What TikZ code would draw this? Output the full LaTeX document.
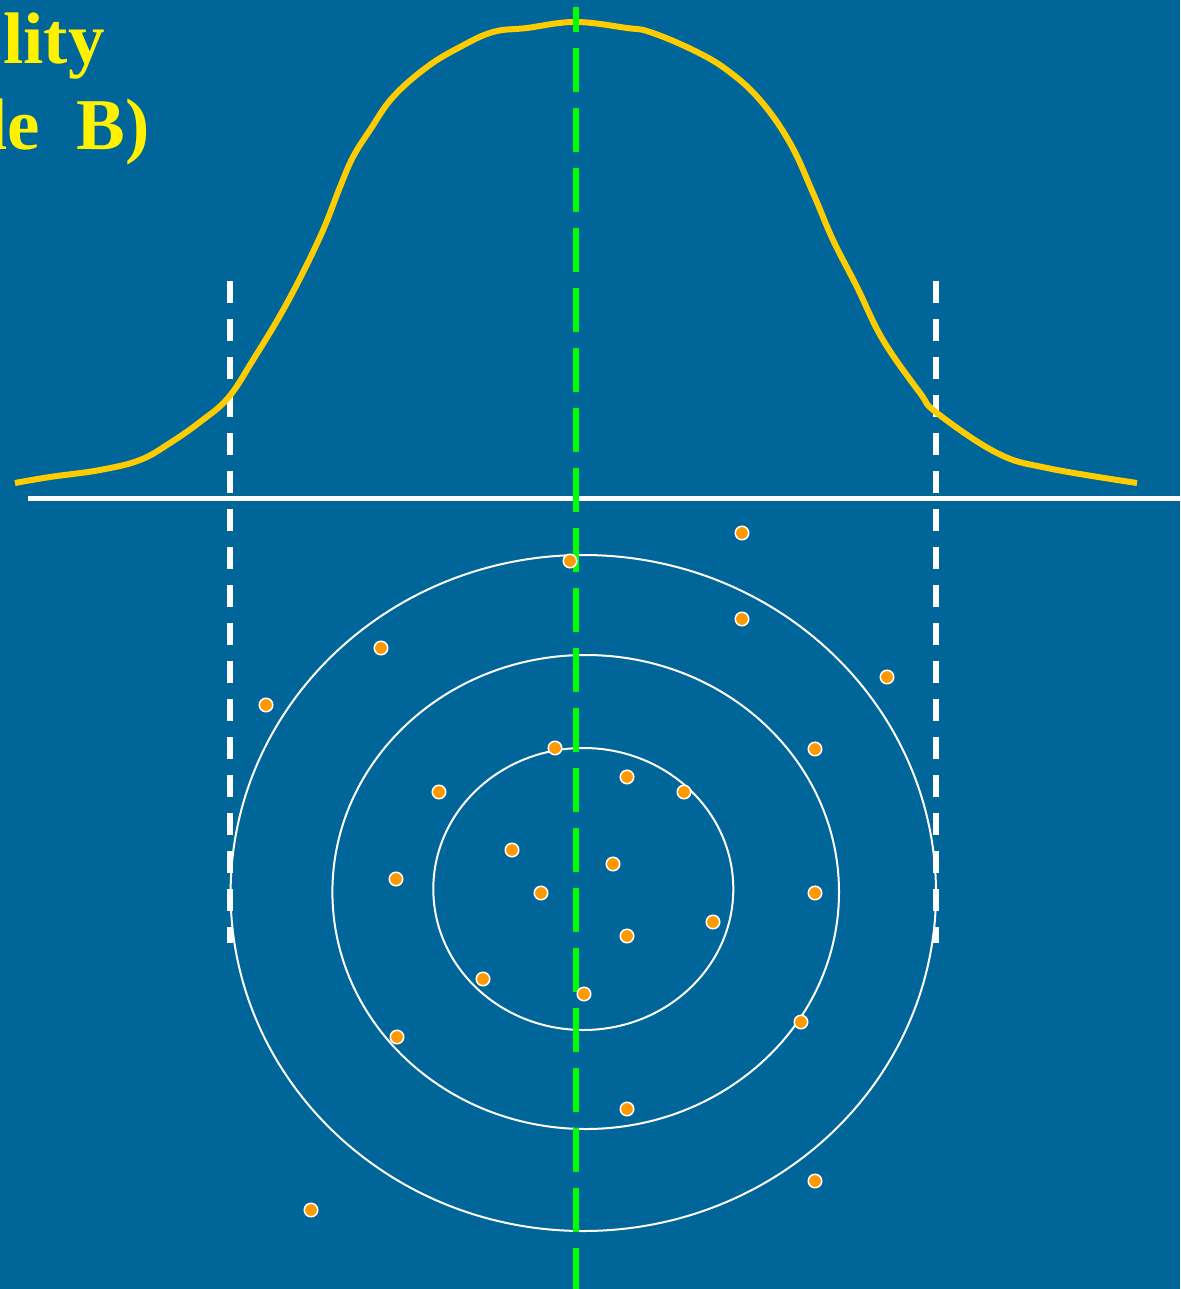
\documentclass[tikz,border=0pt]{standalone}
\usepackage{fontspec}
\setmainfont{Liberation Serif}
\usepackage{tikz}
\pgfdeclarelayer{edgelayer}
\pgfdeclarelayer{nodelayer}
\pgfsetlayers{edgelayer,main,nodelayer}
\definecolor{bgblue}{HTML}{006699}
\definecolor{curveyellow}{HTML}{FFCC00}
\definecolor{dotorange}{HTML}{FF9900}
\tikzstyle{dot}=[circle,fill=dotorange,draw=white,line width=1.5pt,inner sep=0pt,minimum size=13.5pt]
\tikzstyle{ring}=[draw=white,line width=2pt]
\tikzstyle{bell}=[draw=curveyellow,line width=6pt]
\tikzstyle{whitedash}=[draw=white,line width=6pt,dash pattern=on 22pt off 16pt]
\tikzstyle{greendash}=[draw=green,line width=6pt,dash pattern=on 44pt off 16pt,dash phase=19pt]
\tikzstyle{title}=[anchor=base west,inner sep=0pt,text=yellow,font=\fontsize{73}{80}\selectfont\bfseries]

\begin{document}
\begin{tikzpicture}[x=1pt,y=-1pt]
	\clip (0,0) rectangle (1180,1289);
	\begin{pgfonlayer}{edgelayer}
		\fill [bgblue] (0,0) rectangle (1180,1289);
		\draw [style=whitedash] (230,281) -- (230,943);
		\draw [style=whitedash] (936,281) -- (936,943);
		\draw [draw=white, line width=5pt] (28,498) -- (1180,498);
		\draw [style=bell] plot [smooth, tension=0.65] coordinates {(15,483) (50,477) (100,470) (140,460) (170,443) (200,422) (228,398) (253,360) (287,303) (320,237) (340,187) (353,157) (370,130) (393,97) (427,67) (460,47) (493,32) (527,28) (575,22) (627,28) (650,32) (693,50) (727,70) (760,100) (790,143) (813,193) (833,240) (857,287) (883,340) (920,393) (937,413) (997,453) (1047,468) (1137,483)};
		\draw [style=ring] (583.3,889) ellipse [x radius=150, y radius=141];
		\draw [style=ring] (585.7,892) ellipse [x radius=253.3, y radius=237];
		\draw [style=ring] (583.3,893) ellipse [x radius=352.7, y radius=338];
	\end{pgfonlayer}
	\draw [style=greendash] (576,7) -- (576,1289);
	\node [style=title] (t1) at (3,64) {lity};
	\node [style=title] (t2) at (-13,150) {le\ \ B)};
	\begin{pgfonlayer}{nodelayer}
		\foreach \x/\y [count=\i] in {742/533, 570/561, 742/619, 381/648, 887/677, 266/705, 555/748, 815/749, 627/777, 684/792, 439/792, 512/850, 613/864, 396/879, 541/893, 815/893, 713/922, 627/936, 483/979, 584/994, 801/1022, 397/1037, 627/1109, 815/1181, 311/1210}
			\node [style=dot] (d\i) at (\x,\y) {};
	\end{pgfonlayer}
\end{tikzpicture}
\end{document}
